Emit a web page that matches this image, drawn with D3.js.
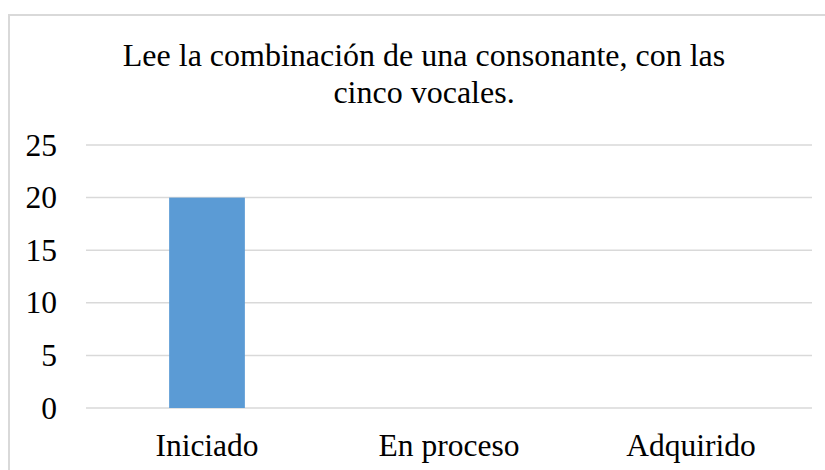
<!DOCTYPE html>
<html>
<head>
<meta charset="utf-8">
<script src="https://cdn.jsdelivr.net/npm/d3@7"></script>
<style>
  body { margin: 0; background: #fff; }
  text { font-family: "Liberation Serif", "Times New Roman", serif; fill: #000; }
</style>
</head>
<body>
<div id="my_dataviz"></div>
<script>
// chart data
var categories = ["Iniciado", "En proceso", "Adquirido"];
var values = [20, 0, 0];
var yTicks = [0, 5, 10, 15, 20, 25];
var titleLines = ["Lee la combinación de una consonante, con las", "cinco vocales."];

var W = 825, H = 470;
var margin = {top: 145, right: 13, bottom: 62, left: 86};

var svg = d3.select("#my_dataviz")
  .append("svg")
    .attr("width", W)
    .attr("height", H);

// outer frame (runs off the right / bottom edge like the source)
svg.append("rect")
  .attr("x", 9).attr("y", 15)
  .attr("width", 900).attr("height", 600)
  .attr("fill", "none")
  .attr("stroke", "#d9d9d9")
  .attr("stroke-width", 2);

// title
svg.append("text")
  .attr("text-anchor", "middle")
  .style("font-family", "'Liberation Serif', serif")
  .style("font-size", "32px")
  .selectAll("tspan")
  .data(titleLines)
  .enter().append("tspan")
    .attr("x", 424)
    .attr("y", (d, i) => 66 + i * 36.5)
    .text(d => d);

var xScale = d3.scaleBand()
  .domain(categories)
  .range([margin.left, W - margin.right])
  .paddingInner(0.687)
  .paddingOuter(0.3435);

var yScale = d3.scaleLinear()
  .domain([0, 25])
  .range([H - margin.bottom, margin.top]);

// gridlines
svg.append("g")
  .selectAll("line")
  .data(yTicks)
  .enter().append("line")
    .attr("x1", margin.left)
    .attr("x2", W - margin.right)
    .attr("y1", d => yScale(d))
    .attr("y2", d => yScale(d))
    .attr("stroke", "#d9d9d9")
    .attr("stroke-width", 1.5);

// y axis labels
var yAxis = d3.axisLeft(yScale)
  .tickValues(yTicks)
  .tickSize(0)
  .tickPadding(29);

svg.append("g")
  .attr("transform", `translate(${margin.left},0)`)
  .call(yAxis)
  .call(g => g.select(".domain").remove())
  .selectAll("text")
    .attr("font-size", "31.5px")
    .attr("font-family", "Liberation Serif, serif");

// bars
svg.append("g")
  .selectAll("rect")
  .data(values)
  .enter().append("rect")
    .attr("x", (d, i) => xScale(categories[i]))
    .attr("width", xScale.bandwidth())
    .attr("y", d => yScale(d))
    .attr("height", d => yScale(0) - yScale(d))
    .attr("fill", "#5b9bd5");

// x axis labels
var xAxis = d3.axisBottom(xScale)
  .tickSize(0)
  .tickPadding(26);

svg.append("g")
  .attr("transform", `translate(0,${yScale(0)})`)
  .call(xAxis)
  .call(g => g.select(".domain").remove())
  .selectAll("text")
    .attr("font-size", "31.5px")
    .attr("font-family", "Liberation Serif, serif");
</script>
</body>
</html>
